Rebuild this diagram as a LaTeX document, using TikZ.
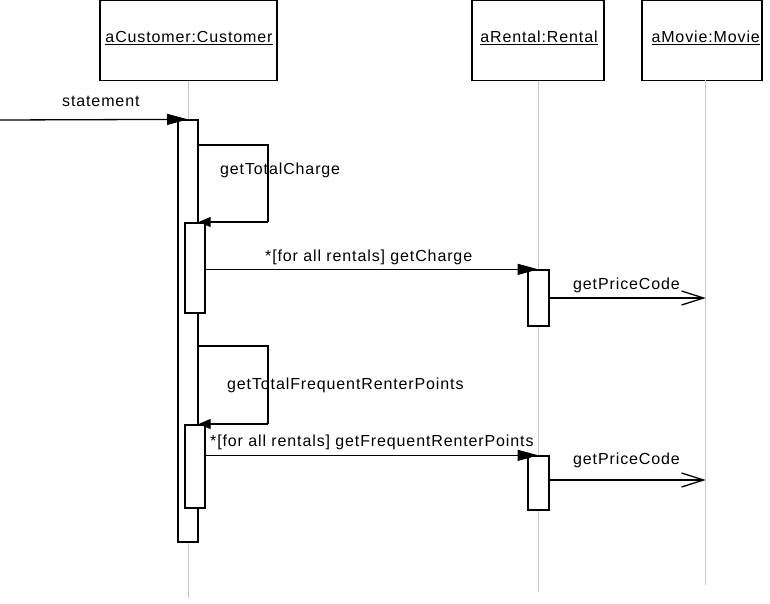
\documentclass[tikz,border=0pt]{standalone}
\usepackage{fontspec}
\setmainfont{Liberation Sans}[LetterSpace=5.5]
\usetikzlibrary{arrows.meta}
\begin{document}
\begin{tikzpicture}[x=1pt,y=-1pt,
  objbox/.style={draw, line width=1.3pt, minimum height=80pt, inner sep=0pt},
  objname/.style={anchor=base, inner sep=0pt, font=\fontsize{16}{19}\selectfont},
  lbl/.style={anchor=base west, inner sep=0pt, font=\fontsize{16}{19}\selectfont},
  lifeline/.style={draw=gray!45, line width=0.6pt},
  actbar/.style={draw, fill=white, line width=1.3pt, inner sep=0pt, minimum width=20pt},
  msg/.style={line width=1.3pt},
  callhead/.style={-{Triangle[length=21pt,width=11pt]}},
  selfhead/.style={-{Triangle[length=12pt,width=10pt]}},
  rethead/.style={-{Straight Barb[length=22pt,width=14pt,line width=1.3pt]}}
]
\useasboundingbox (0,0) rectangle (770,603);
\fill[white] (0,0) rectangle (770,603);

% objects
\node[objbox, minimum width=177pt] (cust) at (188.5,40.5) {};
\node[objbox, minimum width=132pt] (rent) at (538,40.5) {};
\node[objbox, minimum width=120pt] (mov) at (702,40.5) {};
\node[objname] (custt) at (189,42.5) {\underline{aCustomer:Customer}};
\node[objname] (rentt) at (539,42.5) {\underline{aRental:Rental}};
\node[objname] (movt) at (705.7,42.5) {\underline{aMovie:Movie}};

% lifelines
\coordinate (clife) at (188.5,598);
\coordinate (rlife) at (538.5,592);
\coordinate (mlife) at (705.7,585);
\draw[lifeline] (cust.south -| clife) -- (clife);
\draw[lifeline] (rent.south -| rlife) -- (rlife);
\draw[lifeline] (705.7,80) -- (mlife);

% activation bars
\node[actbar, minimum height=422pt] (cbar) at (188,331) {};
\coordinate (src) at (0,120);
\draw[msg, callhead] (src) -- (cbar.north);
\node[lbl] (lstatement) at (62,106.5) {statement};

% self call 1
\draw[msg] (cbar.east |- 0,145) -- (268,145) -- (268,222);
\node[actbar, minimum height=90pt] (n1) at (195,268) {};
\draw[msg, selfhead] (268,222) -- (cbar.east |- 0,222);
\node[lbl] (ltc) at (220,174) {getTotalCharge};

% getCharge
\node[actbar, minimum width=21pt, minimum height=56pt] (r1) at (538.5,298) {};
\draw[msg, callhead] (n1.east |- r1.north) -- (r1.north);
\node[lbl] (lgc) at (265,261) {*[for all rentals] getCharge};
\draw[msg, rethead] (r1.east) -- (r1.east -| mlife);
\node[lbl] (lpc1) at (573,289) {getPriceCode};

% self call 2
\draw[msg] (cbar.east |- 0,346) -- (268,346) -- (268,424);
\node[actbar, minimum height=83pt] (n2) at (195,466.5) {};
\draw[msg, selfhead] (268,424) -- (cbar.east |- 0,424);
\node[lbl] (ltfrp) at (227,389) {getTotalFrequentRenterPoints};

% getFrequentRenterPoints
\node[actbar, minimum width=21pt, minimum height=54pt] (r2) at (538.5,483) {};
\draw[msg, callhead] (n2.east |- r2.north) -- (r2.north);
\node[lbl] (lgfrp) at (210,446.5) {*[for all rentals] getFrequentRenterPoints};
\draw[msg, rethead] ([yshift=3pt]r2.east) -- ([yshift=3pt]r2.east -| mlife);
\node[lbl] (lpc2) at (573,464) {getPriceCode};
\end{tikzpicture}
\end{document}
